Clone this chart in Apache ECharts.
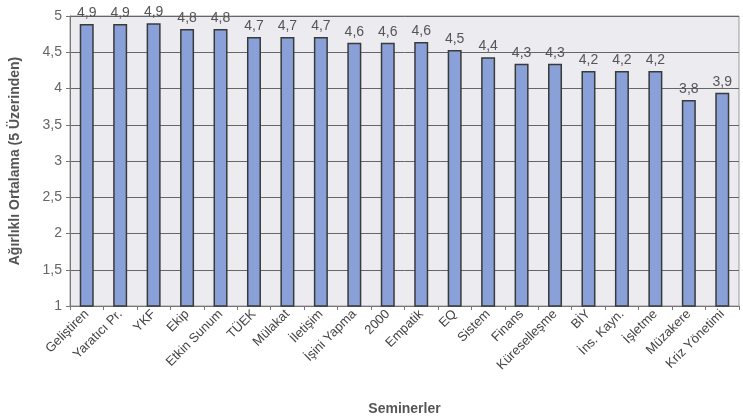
<!DOCTYPE html>
<html>
<head>
<meta charset="utf-8">
<script src="https://cdn.jsdelivr.net/npm/echarts@6/dist/echarts.min.js"></script>
<style>
  html, body { margin: 0; padding: 0; background: #fff; }
  #main { width: 743px; height: 419px; }
</style>
</head>
<body>
<div id="main"></div>
<script>
var seminerler = ['Geliştiren', 'Yaratıcı Pr.', 'YKF', 'Ekip', 'Etkin Sunum', 'TÜEK', 'Mülakat', 'İletişim', 'İşini Yapma', '2000',
    'Empatik', 'EQ', 'Sistem', 'Finans', 'Küreselleşme', 'BİY', 'İns. Kayn.', 'İşletme', 'Müzakere', 'Kriz Yönetimi'];
// bar heights (labels show them rounded)
var ortalama = [4.89, 4.89, 4.90, 4.82, 4.82, 4.71, 4.71, 4.71, 4.63, 4.63,
    4.64, 4.53, 4.43, 4.34, 4.34, 4.24, 4.24, 4.24, 3.84, 3.94];
var yMin = 1, yMax = 5, yStep = 0.5;

var chart = echarts.init(document.getElementById('main'));

function virgul(v) {
    return v.toFixed(1).replace('.', ',');
}

chart.setOption({
    animation: false,
    textStyle: { fontFamily: 'Liberation Sans, Arial, sans-serif' },
    grid: {
        left: 70,
        right: 4,
        top: 16,
        bottom: 113,
        outerBoundsMode: 'none',
        containLabel: false,
        show: true,
        backgroundColor: '#ececf0',
        borderColor: '#9a9a9a',
        borderWidth: 1
    },
    xAxis: {
        type: 'category',
        data: seminerler,
        name: 'Seminerler',
        nameLocation: 'middle',
        nameGap: 96,
        nameTextStyle: { fontSize: 14, fontWeight: 'bold', color: '#555' },
        axisLine: { lineStyle: { color: '#777' } },
        axisTick: { show: true, length: 4, lineStyle: { color: '#777' } },
        axisLabel: { rotate: 45, interval: 0, fontSize: 13, color: '#444', margin: 6 }
    },
    yAxis: {
        type: 'value',
        min: yMin,
        max: yMax,
        interval: yStep,
        name: 'Ağırlıklı Ortalama (5 Üzerinden)',
        nameLocation: 'middle',
        nameGap: 48,
        nameTextStyle: { fontSize: 14, fontWeight: 'bold', color: '#555' },
        axisLine: { show: true, lineStyle: { color: '#777' } },
        axisTick: { show: true, length: 4, lineStyle: { color: '#777' } },
        axisLabel: {
            fontSize: 14,
            color: '#666',
            formatter: function (v) { return String(v).replace('.', ','); }
        },
        splitLine: { lineStyle: { color: '#666', width: 1 } }
    },
    series: [{
        type: 'bar',
        data: ortalama,
        barWidth: 14,
        itemStyle: {
            color: '#8aa0d8',
            borderColor: '#3a3a3a',
            borderWidth: 1.5
        },
        label: {
            show: true,
            position: 'top',
            distance: 4,
            fontSize: 14,
            color: '#555',
            formatter: function (p) { return virgul(p.value); }
        }
    }]
});
</script>
</body>
</html>
